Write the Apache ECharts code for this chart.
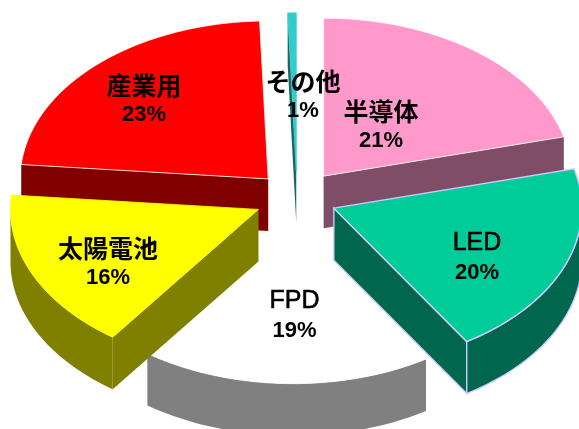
<!DOCTYPE html>
<html>
<head>
<meta charset="utf-8">
<style>html,body{margin:0;padding:0;background:#fff;overflow:hidden}#chart{width:579px;height:429px}</style>
<script src="https://cdn.jsdelivr.net/npm/echarts@6/dist/echarts.min.js"></script>
</head>
<body>
<div id="chart"></div>
<script>
// Data, clockwise from 12 o'clock
const categories = ['半導体', 'LED', 'FPD', '太陽電池', '産業用', 'その他'];
const values = [21, 20, 19, 16.45, 23, 0.55];

// Styles
const topColors = ['#FF99CC', '#00CC99', '#FFFFFF', '#FFFF00', '#FF0000', '#33CCCC'];
const wallColors = ['#804D66', '#00664D', '#808080', '#808000', '#800000', '#1A6666'];
const topBorders = ['#FFFFFF', '#CCCCFF', null, null, '#FFFFFF', null];
const wallBorders = [null, '#CCCCFF', null, null, null, null];
const paintOrder = [1, 5, 3, 4, 2, 0]; // z rank per category
const labelCentres = [[381, 126], [477, 258], [294.5, 316], [108, 263], [144, 100], [303, 96]];
const sliceNudges = [[0, 0], [-3.5, 0], [-2.5, 0], [1, 0], [1, 1], [0, 0.5]];

// Pie geometry
const centre = [297, 198];
const radiusX = 248, radiusY = 158, depth = 52, explode = 0.175;

const total = values.reduce((a, b) => a + b, 0);
const isLatin = s => /^[A-Z]+$/.test(s);

function renderSlice(params, api) {
  const i = params.dataIndex;
  const before = values.slice(0, i).reduce((a, b) => a + b, 0);
  const t0 = before / total * 2 * Math.PI;
  const t1 = (before + api.value(0)) / total * 2 * Math.PI;
  const mid = (t0 + t1) / 2;
  const ax = centre[0] + explode * radiusX * Math.sin(mid) + sliceNudges[i][0];
  const ay = centre[1] - explode * radiusY * Math.cos(mid) + sliceNudges[i][1];
  const pointAt = t => [ax + radiusX * Math.sin(t), ay - radiusY * Math.cos(t)];
  const arc = [];
  const steps = Math.max(2, Math.ceil((t1 - t0) * 40));
  for (let k = 0; k <= steps; k++) arc.push(pointAt(t0 + (t1 - t0) * k / steps));
  // Front part of the rim only: the lower half of the ellipse faces the viewer
  const frontFrom = Math.max(t0, Math.PI / 2), frontTo = Math.min(t1, 3 * Math.PI / 2);
  const rim = [];
  if (frontTo > frontFrom) {
    const n = Math.ceil((frontTo - frontFrom) * 40);
    for (let k = 0; k <= n; k++) rim.push(pointAt(frontFrom + (frontTo - frontFrom) * k / n));
  }
  const down = p => [p[0], p[1] + depth];
  const apex = [ax, ay];
  const z = paintOrder[i] * 5;
  const topStroke = topBorders[i];
  const wallStroke = wallBorders[i];
  const wallStyle = wallStroke
    ? { fill: wallColors[i], stroke: wallStroke, lineWidth: 1.4 }
    : { fill: wallColors[i] };
  const quad = (a, b) => [a, b, down(b), down(a)];
  const wall = pts => ({ type: 'polygon', z2: z, shape: { points: pts }, style: wallStyle });
  const children = [];
  if (Math.sin(t0) < 0) children.push(wall(quad(apex, arc[0])));
  if (Math.sin(t1) > 0) children.push(wall(quad(apex, arc[arc.length - 1])));
  if (rim.length) children.push(wall(rim.concat(rim.map(down).reverse())));
  const name = categories[i];
  const pct = Math.round(api.value(0) / total * 100) + '%';
  const lc = labelCentres[i];
  const latin = isLatin(name);
  children.push(
    {
      type: 'polygon', z2: z + 1,
      shape: { points: [apex].concat(arc) },
      style: { fill: topColors[i], stroke: topStroke || topColors[i], lineWidth: topStroke === '#CCCCFF' ? 1.4 : 0.8 }
    },
    {
      type: 'text', z2: 100,
      style: {
        text: name, x: lc[0], y: lc[1] - 15, align: 'center', verticalAlign: 'middle', fill: '#000',
        stroke: latin ? '#000' : null, lineWidth: latin ? 0.6 : 0,
        font: latin ? '25px "Liberation Sans"' : 'bold 25px "Noto Sans CJK JP"'
      }
    },
    {
      type: 'text', z2: 100,
      style: {
        text: pct, x: lc[0], y: lc[1] + 15, align: 'center', verticalAlign: 'middle', fill: '#000',
        font: 'bold 22px "Liberation Sans"'
      }
    }
  );
  return { type: 'group', children: children };
}

const chart = echarts.init(document.getElementById('chart'), null, { renderer: 'canvas' });
chart.setOption({
  backgroundColor: '#ffffff',
  animation: false,
  series: [{
    type: 'custom',
    coordinateSystem: 'none',
    renderItem: renderSlice,
    data: categories.map((c, i) => ({ name: c, value: [values[i]] }))
  }]
});
</script>
</body>
</html>
